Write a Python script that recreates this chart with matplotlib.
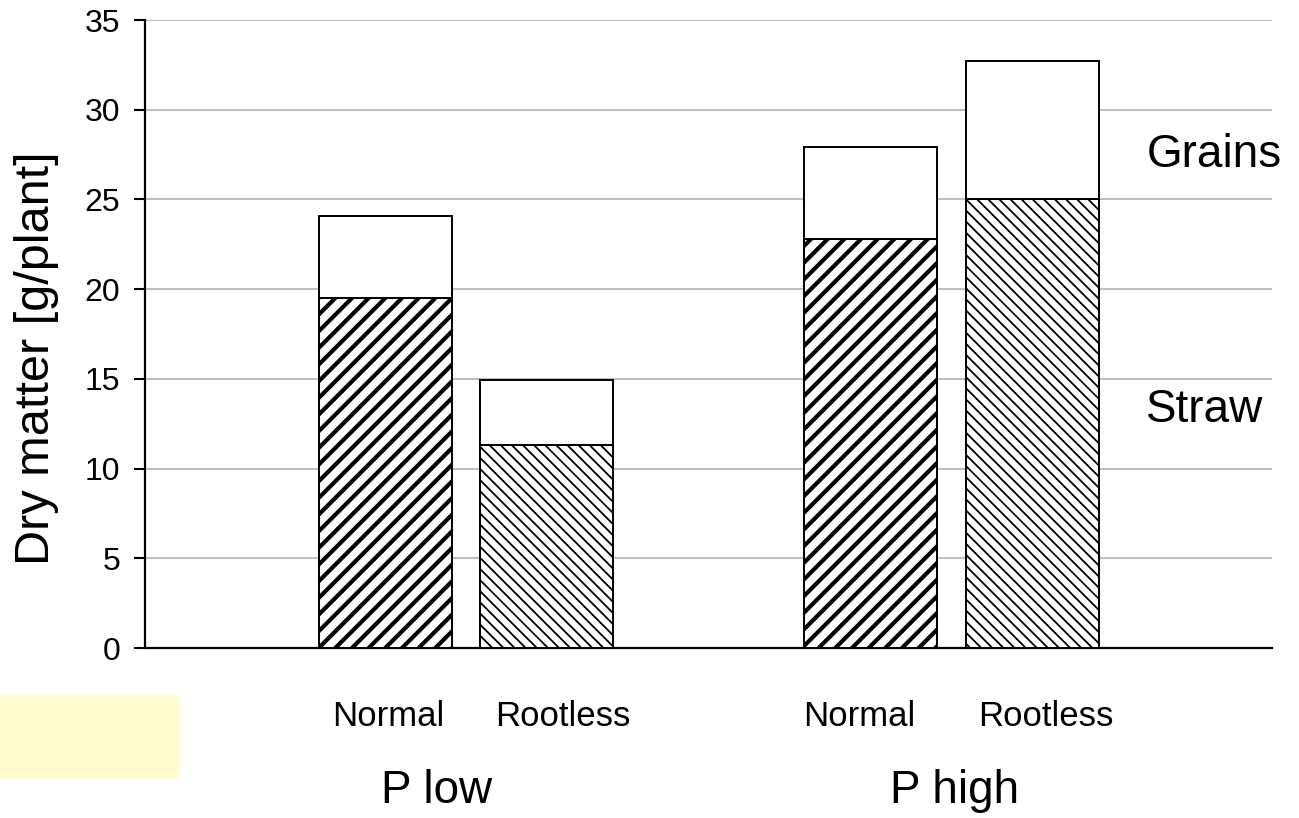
import matplotlib
matplotlib.use("Agg")
import matplotlib.pyplot as plt
from matplotlib.patches import Rectangle
import matplotlib.transforms as mtransforms

plt.rcParams['font.family'] = ['Liberation Sans', 'DejaVu Sans']

# ---- data ----
bar_labels = ["Normal", "Rootless", "Normal", "Rootless"]
group_labels = ["P low", "P high"]
straw = [19.5, 11.3, 22.8, 25.0]
total = [24.1, 14.95, 27.9, 32.7]
grains = [t - s for t, s in zip(total, straw)]
hatches = ["//", "\\\\\\", "//", "\\\\\\"]
hatch_lws = [3.0, 1.3, 3.0, 1.3]
yticks = [0, 5, 10, 15, 20, 25, 30, 35]

W, H = 1299, 818
fig = plt.figure(figsize=(W / 100, H / 100), dpi=100)
ax = fig.add_axes([145 / W, 1 - 648 / H, (1272 - 145) / W, (648 - 20) / H])

pos = [0.0, 1.21, 3.64, 4.86]
label_offsets = [0.02, 0.12, -0.08, 0.10]
width = 1.0

for x, s, g, h, lw in zip(pos, straw, grains, hatches, hatch_lws):
    with plt.rc_context({'hatch.linewidth': lw, 'hatch.color': 'black'}):
        b = ax.bar(x, s, width=width, color='white', edgecolor='black',
                   linewidth=1.4, hatch=h, zorder=3)
        for p in b:
            if hasattr(p, 'set_hatch_linewidth'):
                p.set_hatch_linewidth(lw)
    ax.bar(x, g, bottom=s, width=width, color='white', edgecolor='black',
           linewidth=1.4, zorder=3)

ax.set_xlim(-1.81, 6.66)
ax.set_ylim(0, 35)
ax.set_yticks(yticks)
ax.tick_params(axis='y', labelsize=23, length=8, width=1.5, pad=10, direction='out')
ax.set_xticks([])
trans = mtransforms.blended_transform_factory(ax.transData, ax.transAxes)
for x, off, lab in zip(pos, label_offsets, bar_labels):
    ax.text(x + off, -(716 - 648) / (648 - 20), lab, transform=trans,
            fontsize=25, ha='center', va='center')
ax.yaxis.grid(True, color='#BFBFBF', linewidth=1.5)
ax.set_axisbelow(True)
for sp in ['top', 'right']:
    ax.spines[sp].set_visible(False)
for sp in ['left', 'bottom']:
    ax.spines[sp].set_linewidth(1.6)
    ax.spines[sp].set_color('black')

fig.text(37 / W, 1 - 358 / H, "Dry matter [g/plant]", rotation=90,
         fontsize=35, ha='center', va='center')
fig.text(437 / W, 1 - 791 / H, group_labels[0], fontsize=33, ha='center', va='center')
fig.text(955 / W, 1 - 791 / H, group_labels[1], fontsize=33, ha='center', va='center')
fig.text(1214 / W, 1 - 155 / H, "Grains", fontsize=33, ha='center', va='center')
fig.text(1146 / W, 1 - 410 / H, "Straw", fontsize=33, ha='left', va='center')

fig.patches.append(Rectangle((0, 1 - 779 / H), 180 / W, 84 / H,
                             transform=fig.transFigure, facecolor='#FFFDCF',
                             edgecolor='none', zorder=0))

fig.savefig("out.png", dpi=100)
